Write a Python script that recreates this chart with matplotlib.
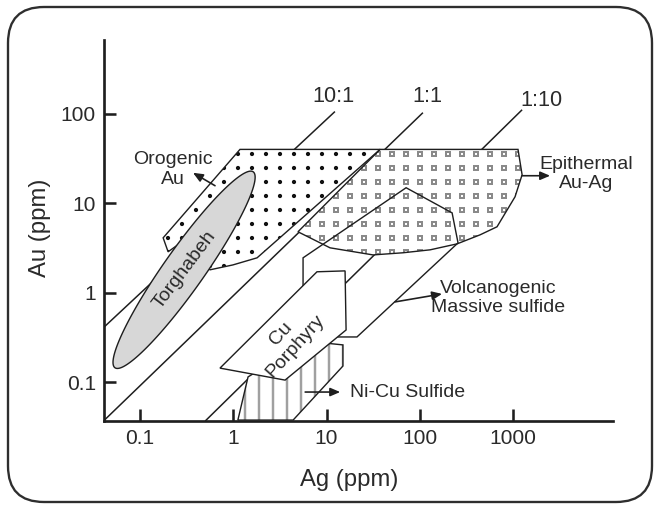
import warnings
import numpy as np
import matplotlib
matplotlib.use('Agg')
import matplotlib.pyplot as plt
from matplotlib import hatch as mhatch
from matplotlib.path import Path
from matplotlib.patches import Polygon, FancyBboxPatch
from matplotlib.transforms import IdentityTransform

warnings.filterwarnings('ignore')

# --- data (ppm) -------------------------------------------------------------
x_ticks = [0.1, 1, 10, 100, 1000]
x_tick_labels = ['0.1', '1', '10', '100', '1000']
y_ticks = [0.1, 1, 10, 100]
y_tick_labels = ['0.1', '1', '10', '100']

# Au:Ag ratio guide lines, end points
ratio_names = ['10:1', '1:1', '1:10']
ratio_ag = [[0.041, 12.3], [0.041, 108], [0.50, 1250]]
ratio_au = [[0.41, 106], [0.037, 103], [0.0366, 111]]

# deposit fields, outline vertices
orogenic_ag = [1.18, 0.177, 0.20, 0.282, 0.399, 0.564, 0.99, 1.80, 37.5]
orogenic_au = [40, 4.10, 2.86, 3.70, 2.45, 1.80, 2.04, 2.45, 40]

epithermal_ag = [37.5, 1130, 1250, 1050, 673, 443, 251, 129, 66, 31.5, 10.9, 4.94]
epithermal_au = [40, 40, 20.8, 11.8, 5.45, 4.43, 3.51, 3.01, 2.79, 2.64, 3.17, 4.79]

vms_ag = [71.3, 222, 257, 21.2, 12.6, 6.65, 5.6, 5.6]
vms_au = [14.9, 7.8, 3.6, 0.319, 0.319, 0.83, 1.16, 2.45]

porphyry_ag = [0.72, 3.59, 16.2, 15.8, 7.9]
porphyry_au = [0.143, 0.105, 0.382, 1.75, 1.71]

nicu_ag = [1.12, 1.44, 5.2, 9.2, 15.0, 15.0, 4.38]
nicu_au = [0.0375, 0.114, 0.26, 0.274, 0.26, 0.151, 0.0375]

# Torghabeh samples: ellipse between two tips, half width in log decades
torghabeh_tips_ag = [0.054, 1.63]
torghabeh_tips_au = [0.144, 22.5]
torghabeh_halfwidth = 0.22


# --- hatches: marks on a plain square grid (stock ones are staggered) --------
class GridHatch(mhatch.Shapes):
    char = ''

    def __init__(self, hatch, density):
        self.num_rows = hatch.count(self.char) * density
        self.num_shapes = (self.num_rows + 1) ** 2 if self.num_rows else 0
        self.num_vertices = (self.num_shapes * len(self.shape_vertices)
                             * (1 if self.filled else 2))

    def set_vertices_and_codes(self, vertices, codes):
        step = 1.0 / self.num_rows
        verts = self.shape_vertices * step * self.size
        cds = self.shape_codes
        if not self.filled:
            verts = np.concatenate([verts, verts[::-1] * 0.9])
            cds = np.concatenate([cds, cds])
        grid = np.linspace(0.0, 1.0, self.num_rows + 1)
        parts = [verts + [x, y] for y in grid for x in grid]
        np.concatenate(parts, out=vertices)
        np.concatenate([cds] * len(parts), out=codes)


class SquareHatch(GridHatch):
    char = 's'
    size = 0.3
    filled = False
    shape_vertices = np.array([[-.5, -.5], [.5, -.5], [.5, .5], [-.5, .5], [-.5, -.5]])
    shape_codes = np.array([Path.MOVETO, Path.LINETO, Path.LINETO, Path.LINETO,
                            Path.CLOSEPOLY], dtype=Path.code_type)


class DotHatch(GridHatch):
    char = 'p'
    size = 0.1
    filled = True
    shape_vertices = Path.unit_circle().vertices
    shape_codes = Path.unit_circle().codes


mhatch._hatch_types.extend([SquareHatch, DotHatch])

# --- figure -----------------------------------------------------------------
DPI = 84
plt.rcParams['font.family'] = ['Liberation Sans', 'DejaVu Sans']
plt.rcParams['hatch.linewidth'] = 1.2
INK = '#1e1e1e'
TXT = '#2a2a2a'

fig = plt.figure(figsize=(655.01 / DPI, 505.01 / DPI), dpi=DPI)
ax = fig.add_axes([0.1588, 0.1663, 0.7771, 0.7545])
ax.set_xscale('log')
ax.set_yscale('log')
ax.set_xlim(0.0411, 11800)
ax.set_ylim(0.0366, 670)


def field(ag, au, hatch=None, hatch_color=INK, face='white', z=2, hatch_lw=None):
    pts = np.column_stack([ag, au])
    if hatch:
        p = Polygon(pts, closed=True, facecolor=face, edgecolor=hatch_color,
                    lw=0, hatch=hatch, zorder=z)
        if hatch_lw and hasattr(p, 'set_hatch_linewidth'):
            p.set_hatch_linewidth(hatch_lw)
        ax.add_patch(p)
    ax.add_patch(Polygon(pts, closed=True, facecolor='none' if hatch else face,
                         edgecolor=INK, lw=1.2, zorder=z + 0.1))


# ratio lines sit under the filled fields
for ag, au in zip(ratio_ag, ratio_au):
    ax.plot(ag, au, color=INK, lw=1.3, zorder=1, solid_capstyle='butt')

field(orogenic_ag, orogenic_au, hatch='p', hatch_color='#111111')
field(epithermal_ag, epithermal_au, hatch='s', hatch_color='#8a8a8a')
field(vms_ag, vms_au, face='none', z=3)
field(nicu_ag, nicu_au, hatch='|', hatch_color='#a0a0a0', z=3, hatch_lw=2.1)
field(porphyry_ag, porphyry_au, z=4)

# Torghabeh ellipse, built in log space
la = np.log10(torghabeh_tips_ag)
lu = np.log10(torghabeh_tips_au)
c = np.array([la.mean(), lu.mean()])
half = np.array([la[1] - la[0], lu[1] - lu[0]]) / 2
perp = np.array([-half[1], half[0]]) / np.hypot(*half) * torghabeh_halfwidth
t = np.linspace(0, 2 * np.pi, 240)
ex = 10 ** (c[0] + np.cos(t) * half[0] + np.sin(t) * perp[0])
ey = 10 ** (c[1] + np.cos(t) * half[1] + np.sin(t) * perp[1])
ax.fill(ex, ey, facecolor='#d7d7d7', edgecolor=INK, lw=1.2, zorder=4)

# labels
fs = 16.7
for name, pos in zip(ratio_names, [(12.0, 155), (122, 155), (1995, 140)]):
    ax.text(*pos, name, fontsize=18.5, color=TXT, ha='center', va='center')

ax.text(0.304, 1.80, 'Torghabeh', fontsize=fs, color=TXT, rotation=53,
        ha='center', va='center', rotation_mode='anchor', zorder=6)
ax.text(3.86, 0.295, 'Cu\nPorphyry', fontsize=fs, color=TXT, rotation=48,
        ha='center', va='center', multialignment='center',
        rotation_mode='anchor', zorder=6)

arrow = dict(arrowstyle='-|>,head_length=0.7,head_width=0.3', color=INK,
             lw=1.4, shrinkA=0, shrinkB=0)
ax.annotate('', xy=(0.370, 21.9), xytext=(0.637, 15.7), arrowprops=arrow, zorder=6)
ax.annotate('', xy=(2495, 20.3), xytext=(1250, 20.3), arrowprops=arrow, zorder=6)
ax.annotate('', xy=(173, 0.967), xytext=(54.3, 0.787), arrowprops=arrow, zorder=6)
ax.annotate('', xy=(14.0, 0.0772), xytext=(5.9, 0.0772), arrowprops=arrow, zorder=6)

ax.text(0.226, 23.7, 'Orogenic\nAu', fontsize=fs, color=TXT, ha='center',
        va='center', multialignment='center')
ax.text(6070, 21.3, 'Epithermal\nAu-Ag', fontsize=fs, color=TXT, ha='center',
        va='center', multialignment='center')
ax.text(690, 0.872, 'Volcanogenic\nMassive sulfide', fontsize=fs, color=TXT,
        ha='center', va='center', multialignment='center')
ax.text(17.9, 0.0772, 'Ni-Cu Sulfide', fontsize=fs, color=TXT, ha='left', va='center')

# axes styling
ax.set_xticks(x_ticks)
ax.set_xticklabels(x_tick_labels)
ax.set_yticks(y_ticks)
ax.set_yticklabels(y_tick_labels)
ax.minorticks_off()
ax.tick_params(direction='in', length=10, width=2.2, labelsize=18, pad=7,
               color=INK, labelcolor=TXT)
for side in ['top', 'right']:
    ax.spines[side].set_visible(False)
for side in ['left', 'bottom']:
    ax.spines[side].set_linewidth(2.3)
    ax.spines[side].set_color(INK)

ax.set_xlabel('Ag (ppm)', fontsize=20.5, color=TXT, va='center')
ax.xaxis.set_label_coords(0.481, -0.155)
ax.set_ylabel('Au (ppm)', fontsize=20.5, color=TXT, va='center', ha='center')
ax.yaxis.set_label_coords(-0.126, 0.507)

# rounded frame round the whole picture, in pixels
fig.add_artist(FancyBboxPatch((8, 3), 644, 495,
                              boxstyle='round,pad=0,rounding_size=36',
                              transform=IdentityTransform(), fill=False,
                              ec='#2e2e2e', lw=2.0))

fig.savefig('out.png', dpi=DPI)
